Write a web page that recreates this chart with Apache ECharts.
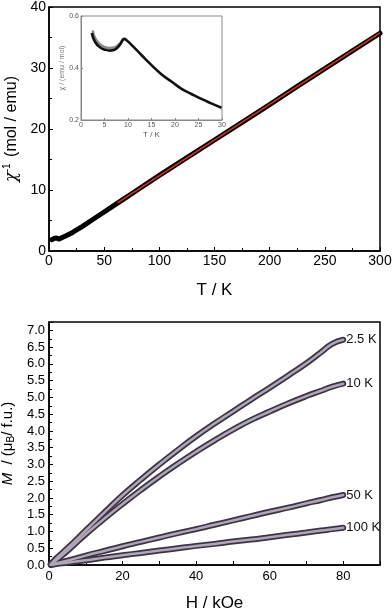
<!DOCTYPE html>
<html><head><meta charset="utf-8">
<script src="https://cdn.jsdelivr.net/npm/echarts@6/dist/echarts.min.js"></script>
<style>html,body{margin:0;padding:0;background:#fff}#c{width:392px;height:611px}</style>
</head><body><div id="c"></div>
<script>
// Top panel: inverse susceptibility vs temperature
const tempK = [2.5, 4, 5, 7, 9.2, 12, 15, 20, 25, 30, 40, 50, 60, 70, 80, 100, 125, 150, 175, 200, 225, 250, 275, 300];
const invChi = [1.85, 1.95, 2.08, 2.13, 1.95, 2.2, 2.45, 2.9, 3.45, 4.0, 5.2, 6.4, 7.6, 8.8, 10.0, 12.4, 15.3, 18.2, 21.1, 24.0, 27.0, 29.9, 32.8, 35.7];
const fitT = [62, 300];
const fitInvChi = [7.9, 35.75];
// Inset: susceptibility vs temperature
const insetT = [2.3, 3.0, 4.1, 5.2, 6.2, 7.3, 8.3, 9.2, 9.7, 10.8, 12.9, 15.0, 17.1, 19.3, 21.4, 23.5, 25.6, 27.7, 29.9];
const insetChi = [0.535, 0.50, 0.479, 0.470, 0.467, 0.472, 0.490, 0.512, 0.507, 0.488, 0.449, 0.411, 0.376, 0.347, 0.320, 0.300, 0.281, 0.264, 0.247];
const insetT2 = [2.5, 3, 4, 5, 6, 7, 8, 8.8, 9.2];
const insetChi2 = [0.545, 0.515, 0.492, 0.481, 0.477, 0.479, 0.49, 0.505, 0.512];
// Bottom panel: magnetization vs field
const fieldH = [0.5, 2, 5, 10, 15, 20, 25, 30, 35, 40, 45, 50, 55, 60, 65, 70, 74, 77, 80];
const m2p5K = [0.03, 0.2, 0.5, 1.03, 1.56, 2.08, 2.55, 3.0, 3.43, 3.84, 4.22, 4.58, 4.94, 5.29, 5.65, 6.02, 6.35, 6.6, 6.72];
const m10K = [0.02, 0.15, 0.42, 0.92, 1.38, 1.82, 2.24, 2.64, 3.02, 3.38, 3.72, 4.04, 4.33, 4.58, 4.82, 5.04, 5.2, 5.32, 5.41];
const m50K = [0.01, 0.05, 0.13, 0.28, 0.42, 0.56, 0.69, 0.82, 0.95, 1.07, 1.2, 1.33, 1.46, 1.59, 1.71, 1.84, 1.94, 2.02, 2.09];
const m100K = [0, 0.03, 0.07, 0.14, 0.22, 0.29, 0.36, 0.43, 0.5, 0.57, 0.63, 0.7, 0.76, 0.83, 0.9, 0.97, 1.03, 1.07, 1.11];
const curveLabels = ['2.5 K', '10 K', '50 K', '100 K'];

const zip = (a, b) => a.map((v, i) => [v, b[i]]);
const FONT = 'Liberation Sans';

function mainAxis(extra) {
  return Object.assign({
    axisLine: {show: true, onZero: false, lineStyle: {color: '#000', width: 1.5}},
    axisTick: {show: true, inside: true, length: 4, lineStyle: {color: '#000', width: 1}},
    minorTick: {show: true, splitNumber: 2, length: 3, lineStyle: {color: '#000', width: 1}},
    splitLine: {show: false},
    axisLabel: {color: '#000', fontFamily: FONT, fontSize: 14, margin: 3},
    nameTextStyle: {color: '#000', fontFamily: FONT, fontSize: 17},
    nameLocation: 'middle'
  }, extra);
}

const chart = echarts.init(document.getElementById('c'), null, {renderer: 'canvas'});
const mSeries = [m2p5K, m10K, m50K, m100K];
const bottomSeries = [];
mSeries.forEach((m, i) => {
  bottomSeries.push({
    type: 'line', xAxisIndex: 2, yAxisIndex: 2, data: zip(fieldH, m), showSymbol: false, smooth: true,
    lineStyle: {color: '#3c3444', width: 6, cap: 'round'}, z: 2,
    endLabel: {show: true, formatter: curveLabels[i], color: '#111', fontFamily: FONT, fontSize: 13, distance: 3}
  });
  bottomSeries.push({
    type: 'line', xAxisIndex: 2, yAxisIndex: 2, data: zip(fieldH, m), showSymbol: false, smooth: true,
    lineStyle: {color: '#b0a6b6', width: 2.5, cap: 'round'}, z: 3
  });
});

chart.setOption({
  animation: false,
  backgroundColor: '#fff',
  grid: [
    {left: 49, top: 7, width: 331, height: 244, show: true, borderColor: '#000', borderWidth: 1.5, backgroundColor: 'transparent', containLabel: false, outerBoundsMode: 'none'},
    {left: 81, top: 16, width: 141, height: 104, show: true, borderColor: '#888', borderWidth: 1, backgroundColor: '#fff', z: 5, containLabel: false, outerBoundsMode: 'none'},
    {left: 49, top: 322, width: 331, height: 243, show: true, borderColor: '#000', borderWidth: 1.5, backgroundColor: 'transparent', containLabel: false, outerBoundsMode: 'none'}
  ],
  xAxis: [
    mainAxis({gridIndex: 0, type: 'value', min: 0, max: 300, interval: 50, name: 'T / K', nameGap: 31}),
    {gridIndex: 1, type: 'value', min: 0, max: 30, interval: 5, z: 6,
      axisLine: {onZero: false, lineStyle: {color: '#888', width: 1}},
      axisTick: {inside: true, length: 2, lineStyle: {color: '#888'}},
      splitLine: {show: false},
      axisLabel: {color: '#555', fontFamily: FONT, fontSize: 7, margin: 2},
      name: 'T / K', nameLocation: 'middle', nameGap: 11, nameTextStyle: {color: '#555', fontFamily: FONT, fontSize: 8}},
    mainAxis({gridIndex: 2, type: 'value', min: 0, max: 90, interval: 20,
      minorTick: {show: true, splitNumber: 2, length: 4, lineStyle: {color: '#000', width: 1}},
      axisLabel: {color: '#000', fontFamily: FONT, fontSize: 13, margin: 5, showMaxLabel: false},
      name: 'H / kOe', nameGap: 30})
  ],
  yAxis: [
    mainAxis({gridIndex: 0, type: 'value', min: 0, max: 40, interval: 10, nameGap: 28,
      name: '{c|χ}{s|-1} (mol / emu)',
      nameTextStyle: {color: '#000', fontFamily: FONT, fontSize: 16,
        rich: {c: {fontFamily: 'DejaVu Serif', fontStyle: 'italic', fontSize: 16, color: '#000'},
               s: {fontSize: 10, verticalAlign: 'top', padding: [0, 2, 8, 0], color: '#000', fontFamily: FONT}}}}),
    {gridIndex: 1, type: 'value', min: 0.2, max: 0.6, interval: 0.2, z: 6,
      axisLine: {show: true, onZero: false, lineStyle: {color: '#888', width: 1}},
      axisTick: {show: true, inside: true, length: 2, lineStyle: {color: '#888'}},
      splitLine: {show: false},
      axisLabel: {color: '#555', fontFamily: FONT, fontSize: 7, margin: 2, formatter: v => v.toFixed(1)},
      name: 'χ / (emu / mol)', nameLocation: 'middle', nameGap: 13,
      nameTextStyle: {color: '#777', fontFamily: FONT, fontSize: 7}},
    mainAxis({gridIndex: 2, type: 'value', min: 0, max: 7.25, interval: 0.5, nameGap: 31,
      axisLabel: {color: '#000', fontFamily: FONT, fontSize: 13, margin: 4, showMaxLabel: false, formatter: v => v.toFixed(1)},
      name: '{m|M}  / (μ{b|B}/ f.u.)',
      nameTextStyle: {color: '#000', fontFamily: FONT, fontSize: 15,
        rich: {m: {fontStyle: 'italic', fontSize: 15, fontFamily: FONT, color: '#000'},
               b: {fontSize: 10, verticalAlign: 'bottom', padding: [6, 0, 0, 0], fontFamily: FONT, color: '#000'}}}})
  ],
  series: [
    {type: 'line', xAxisIndex: 0, yAxisIndex: 0, data: zip(tempK, invChi), showSymbol: false,
      lineStyle: {color: '#000', width: 5, cap: 'round', join: 'round'}, z: 2},
    {type: 'line', xAxisIndex: 0, yAxisIndex: 0, data: zip(fitT, fitInvChi), showSymbol: false,
      lineStyle: {color: '#d8321e', width: 1.5}, z: 3},
    {type: 'line', xAxisIndex: 1, yAxisIndex: 1, data: zip(insetT2, insetChi2), showSymbol: false, smooth: true,
      lineStyle: {color: '#8a8a8a', width: 2.5}, z: 7},
    {type: 'line', xAxisIndex: 1, yAxisIndex: 1, data: zip(insetT, insetChi), showSymbol: false, smooth: true,
      lineStyle: {color: '#111', width: 2.6}, z: 8}
  ].concat(bottomSeries)
});
</script></body></html>
